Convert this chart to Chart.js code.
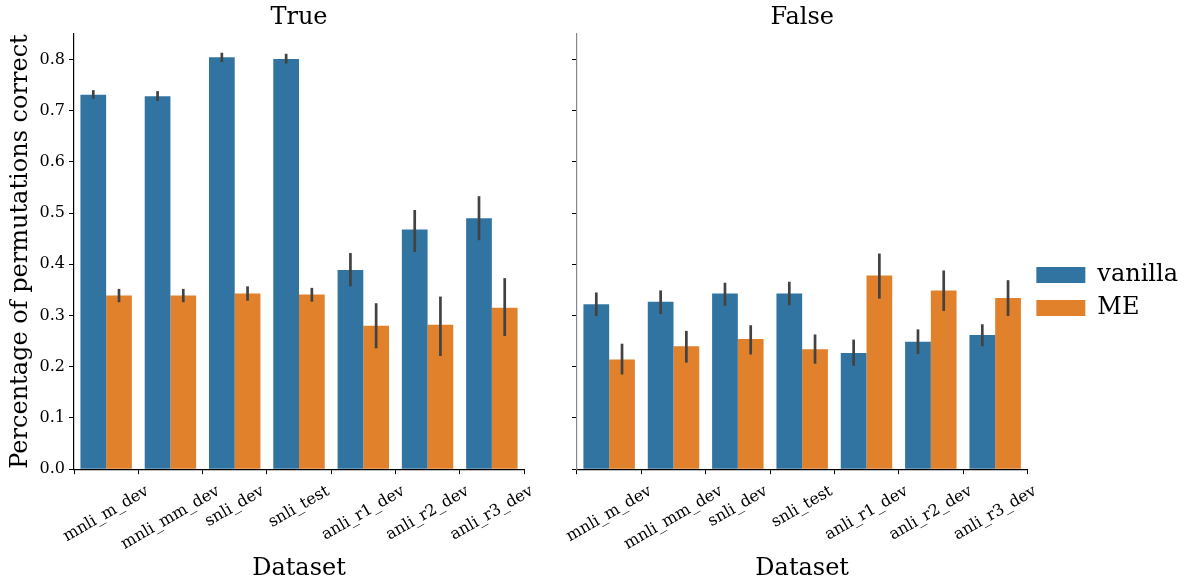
<!DOCTYPE html>
<html>
<head>
<meta charset="UTF-8">
<title>Percentage of permutations correct</title>
<script src="https://cdn.jsdelivr.net/npm/chart.js"></script>
<style>
  body { margin: 0; background: #fff; }
  #left  { position: absolute; left: 0;     top: 0; width: 540px; height: 583px; }
  #right { position: absolute; left: 540px; top: 0; width: 651px; height: 583px; }
</style>
</head>
<body>
<div id="left"><canvas id="cTrue"></canvas></div>
<div id="right"><canvas id="cFalse"></canvas></div>

<script>
const categories = ['mnli_m_dev', 'mnli_mm_dev', 'snli_dev', 'snli_test', 'anli_r1_dev', 'anli_r2_dev', 'anli_r3_dev'];
const seriesNames = ['vanilla', 'ME'];
const panelTitles = ['True', 'False'];
const yTicks = [0.0, 0.1, 0.2, 0.3, 0.4, 0.5, 0.6, 0.7, 0.8];

// panel True
const trueVanilla   = [0.731, 0.728, 0.804, 0.801, 0.389, 0.468, 0.490];
const trueVanillaLo = [0.723, 0.719, 0.795, 0.792, 0.357, 0.424, 0.447];
const trueVanillaHi = [0.740, 0.738, 0.813, 0.811, 0.422, 0.506, 0.533];
const trueME        = [0.339, 0.339, 0.343, 0.341, 0.280, 0.282, 0.315];
const trueMELo      = [0.326, 0.326, 0.329, 0.327, 0.236, 0.221, 0.260];
const trueMEHi      = [0.352, 0.352, 0.357, 0.354, 0.324, 0.337, 0.373];

// panel False
const falseVanilla   = [0.322, 0.327, 0.343, 0.343, 0.227, 0.249, 0.262];
const falseVanillaLo = [0.299, 0.303, 0.319, 0.320, 0.202, 0.225, 0.240];
const falseVanillaHi = [0.345, 0.349, 0.364, 0.366, 0.253, 0.273, 0.283];
const falseME        = [0.214, 0.240, 0.254, 0.234, 0.378, 0.349, 0.334];
const falseMELo      = [0.185, 0.208, 0.224, 0.206, 0.333, 0.309, 0.299];
const falseMEHi      = [0.245, 0.270, 0.281, 0.263, 0.421, 0.388, 0.369];

const BLUE = '#3274a1';
const ORANGE = '#e1812c';

Chart.defaults.font.family = "'DejaVu Serif', serif";
Chart.defaults.color = '#000';
Chart.defaults.animation = false;

// error bars + rotated (center aligned) x labels
const extras = {
  id: 'extras',
  afterDatasetsDraw(chart) {
    const ctx = chart.ctx, y = chart.scales.y;
    chart.data.datasets.forEach((ds, i) => {
      chart.getDatasetMeta(i).data.forEach((bar, j) => {
        ctx.save();
        ctx.strokeStyle = '#424242';
        ctx.lineWidth = 2.7;
        ctx.beginPath();
        ctx.moveTo(bar.x, y.getPixelForValue(ds.lo[j]));
        ctx.lineTo(bar.x, y.getPixelForValue(ds.hi[j]));
        ctx.stroke();
        ctx.restore();
      });
    });
  },
  afterDraw(chart) {
    const ctx = chart.ctx, x = chart.scales.x;
    const fs = 16, a = Math.PI / 6;
    ctx.save();
    ctx.font = fs + "px 'DejaVu Serif'";
    ctx.fillStyle = '#000';
    ctx.textAlign = 'center';
    ctx.textBaseline = 'middle';
    categories.forEach((lab, i) => {
      const px = x.getPixelForTick(i);
      const w = ctx.measureText(lab).width;
      const H = w * Math.sin(a) + fs * Math.cos(a);
      const top = x.top + 5 + 9;
      ctx.save();
      ctx.translate(px, top + H / 2);
      ctx.rotate(-a);
      ctx.fillText(lab, 0, 0);
      ctx.restore();
    });
    ctx.restore();
  }
};

function makeChart(id, title, vals, showYLabels, showLegend) {
  return new Chart(document.getElementById(id), {
    type: 'bar',
    data: {
      labels: categories,
      datasets: [
        { label: seriesNames[0], data: vals[0], lo: vals[1], hi: vals[2], backgroundColor: BLUE },
        { label: seriesNames[1], data: vals[3], lo: vals[4], hi: vals[5], backgroundColor: ORANGE }
      ]
    },
    options: {
      responsive: true,
      maintainAspectRatio: false,
      categoryPercentage: 0.8,
      barPercentage: 1.0,
      layout: { padding: { top: 0, bottom: 0, left: 0, right: showLegend ? 3 : 16 } },
      plugins: {
        tooltip: { enabled: false },
        title: {
          display: true, text: title, fullSize: false,
          font: { size: 24, weight: 'normal' }, padding: { top: 3, bottom: 2 }
        },
        legend: {
          display: showLegend, position: 'right', align: 'center',
          labels: { boxWidth: 49, boxHeight: 16, padding: 9, font: { size: 24 }, color: '#000' }
        }
      },
      scales: {
        x: {
          grid: { drawOnChartArea: false, drawTicks: true, tickLength: 5, color: '#000' },
          border: { display: true, color: '#000', width: 1.2 },
          ticks: { display: false },
          title: {
            display: true, text: 'Dataset',
            font: { size: 24 }, padding: { top: 80, bottom: 0 }
          }
        },
        y: {
          min: 0, max: 0.85,
          afterBuildTicks: s => { s.ticks = yTicks.map(v => ({ value: v })); },
          afterFit: s => { s.width = showYLabels ? 74 : 37; },
          grid: { drawOnChartArea: false, drawTicks: true, tickLength: 5, color: '#000' },
          border: { display: true, color: showYLabels ? '#000' : '#888', width: 1.2 },
          ticks: {
            display: showYLabels, padding: 4,
            font: { size: 16 },
            callback: v => v.toFixed(1)
          },
          title: {
            display: showYLabels, text: 'Percentage of permutations correct',
            font: { size: 24 }, padding: { top: 6, bottom: 6 }
          }
        }
      }
    },
    plugins: [extras]
  });
}

makeChart('cTrue', panelTitles[0],
  [trueVanilla, trueVanillaLo, trueVanillaHi, trueME, trueMELo, trueMEHi], true, false);
makeChart('cFalse', panelTitles[1],
  [falseVanilla, falseVanillaLo, falseVanillaHi, falseME, falseMELo, falseMEHi], false, true);
</script>
</body>
</html>
